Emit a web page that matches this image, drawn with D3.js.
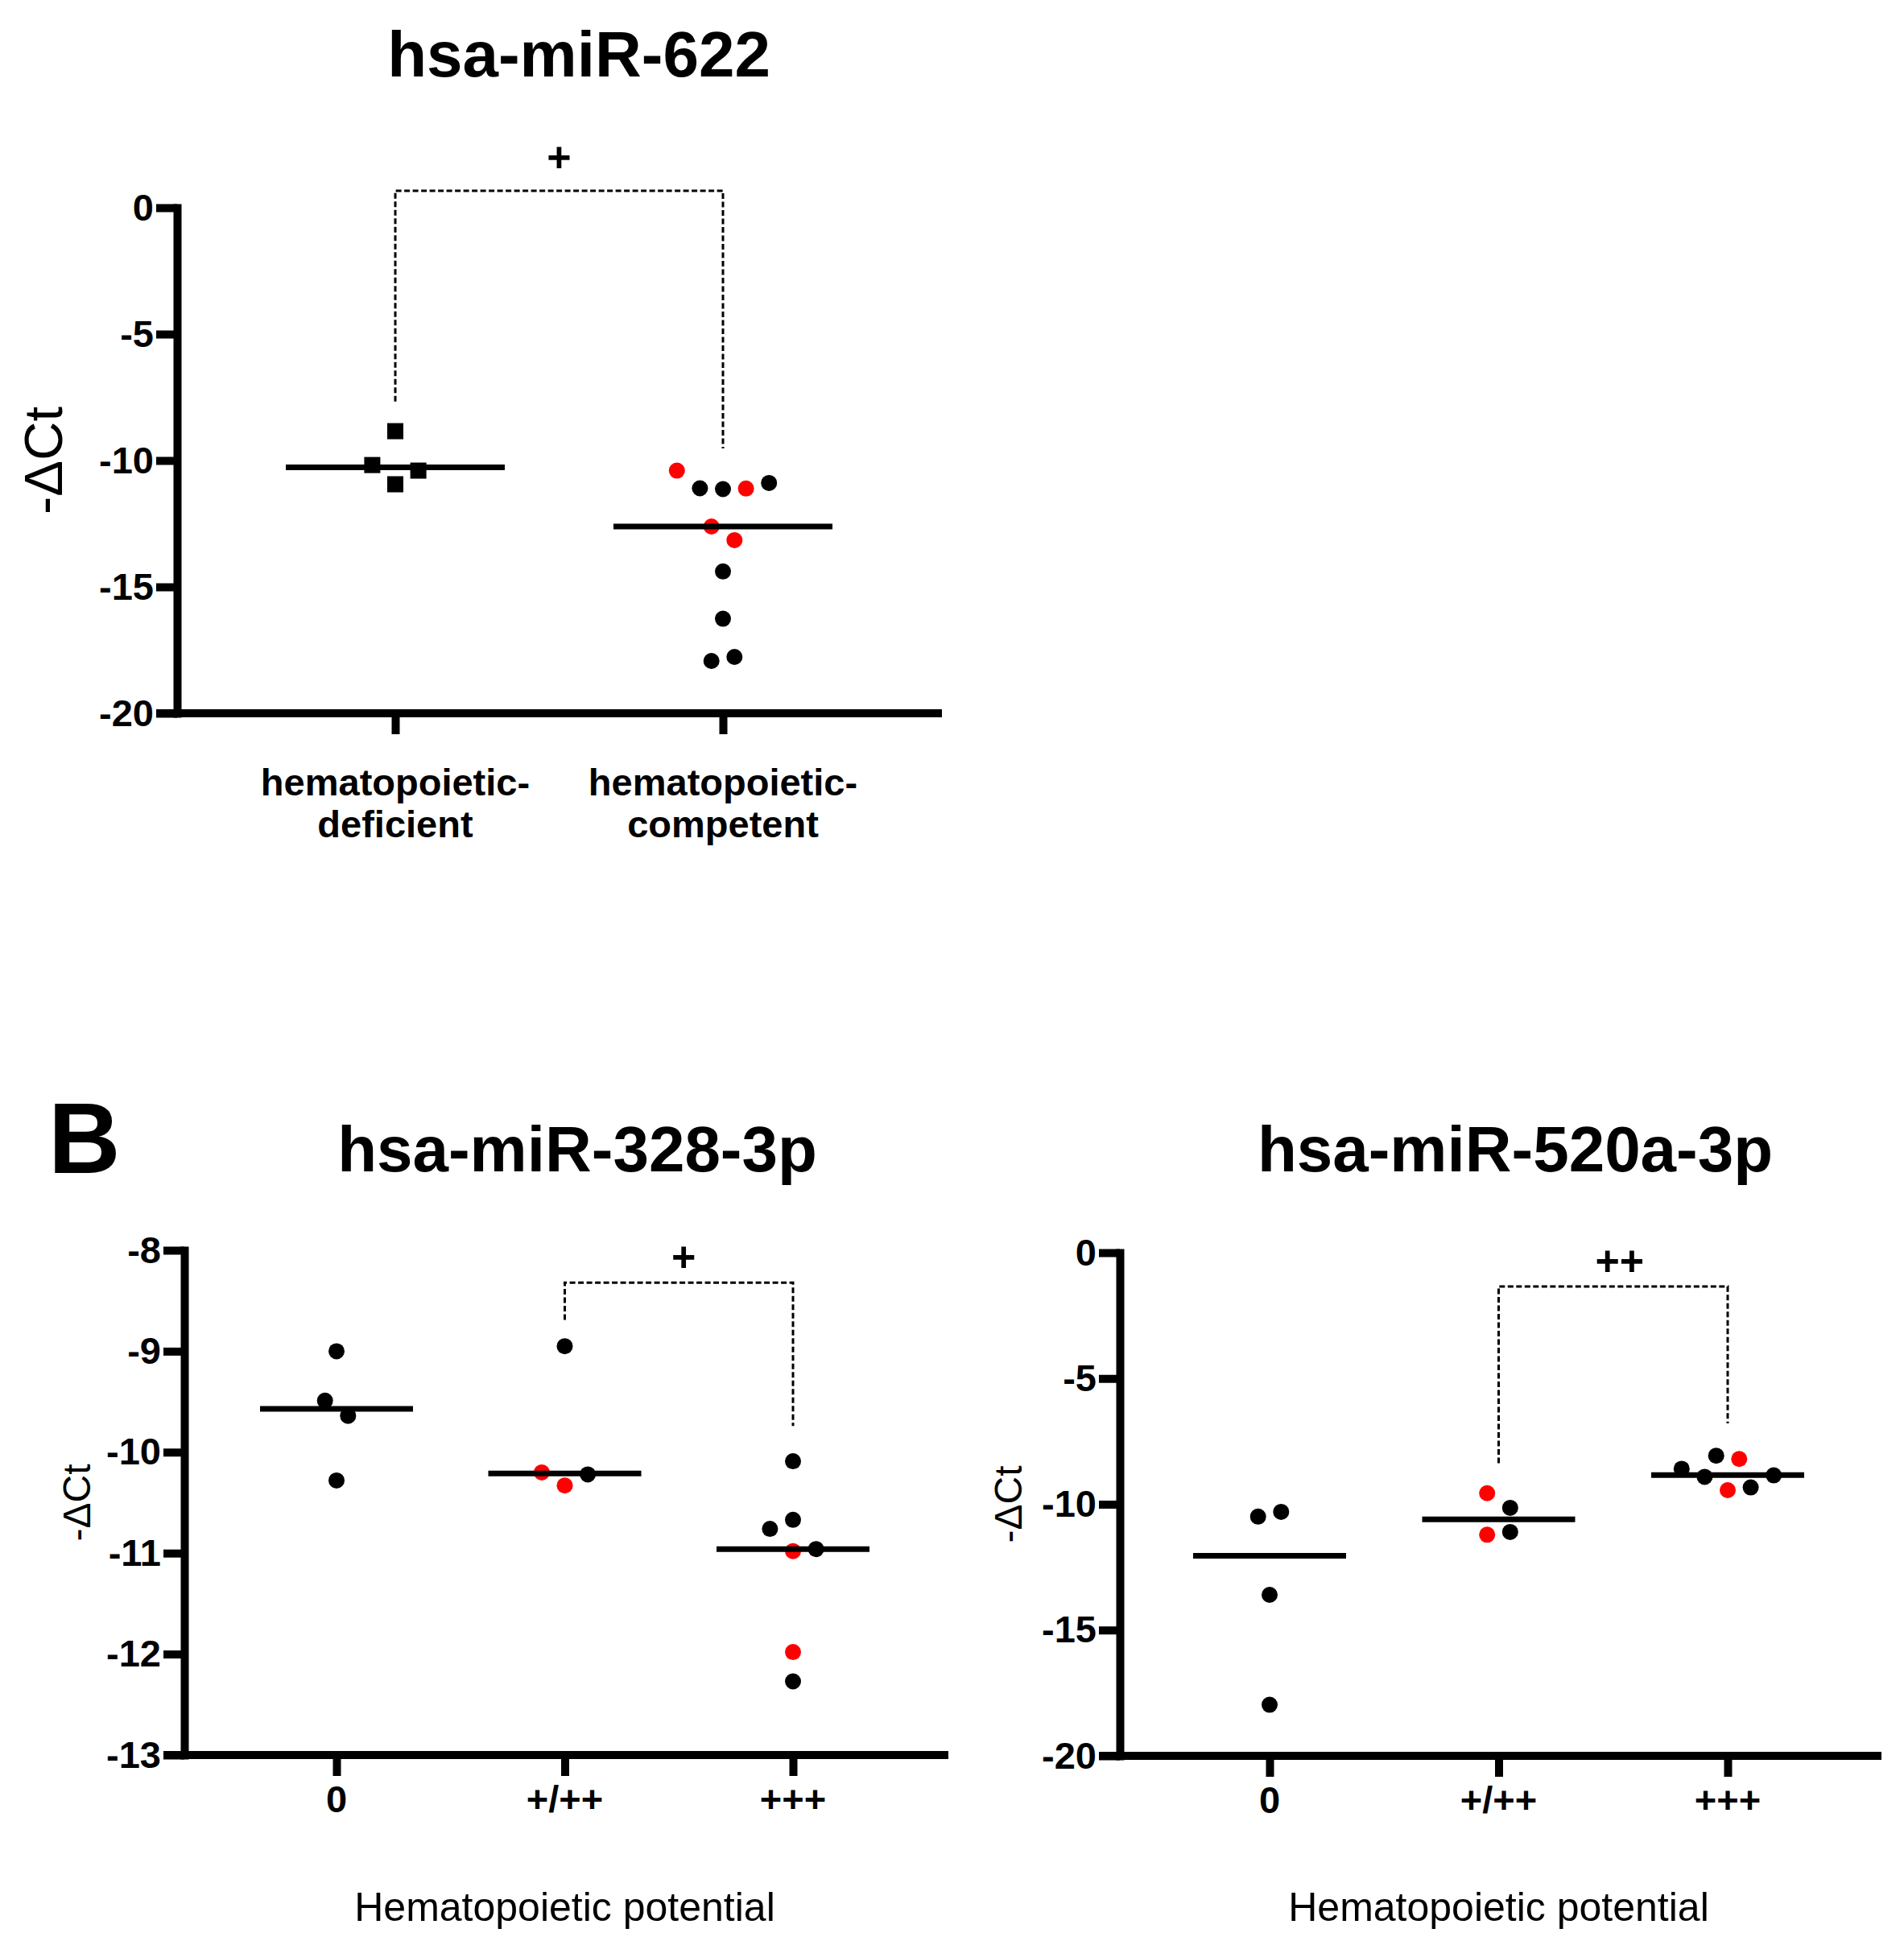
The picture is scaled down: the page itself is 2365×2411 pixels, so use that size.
<!DOCTYPE html>
<html>
<head>
<meta charset="utf-8">
<script src="https://cdn.jsdelivr.net/npm/d3@7"></script>
<style>
  body { margin: 0; background: #fff; }
  svg text { font-family: "Liberation Sans", Arial, Helvetica, sans-serif; fill: #000; }
</style>
</head>
<body>
<svg id="figure"></svg>
<script>
// ---------------- data ----------------
// hsa-miR-622 (panel A)
const miR622Groups = ['hematopoietic-\ndeficient', 'hematopoietic-\ncompetent'];
const miR622Values = [
  [-8.84, -10.18, -10.40, -10.94],
  [-10.40, -11.10, -11.13, -11.11, -10.89, -12.61, -13.15, -14.39, -16.26, -17.93, -17.77]
];
const miR622Red = [
  [0, 0, 0, 0],
  [1, 0, 0, 1, 0, 1, 1, 0, 0, 0, 0]
];
// horizontal scatter slot of every point (half point widths)
const miR622Jitter = [
  [0, -2, 2, 0],
  [-4, -2, 0, 2, 4, -1, 1, 0, 0, -1, 1]
];
const miR622Median = [-10.27, -12.61];
const miR622Ticks = [0, -5, -10, -15, -20];
const miR622Sig = { label: '+', from: 0, to: 1, top: 0.67, ends: [-7.67, -9.52] };

// hsa-miR-328-3p (panel B, left)
const potentialGroups = ['0', '+/++', '+++'];
const miR328Values = [
  [-9.00, -9.49, -9.64, -10.28],
  [-8.95, -10.20, -10.33, -10.22],
  [-10.09, -10.67, -10.76, -10.98, -10.96, -11.98, -12.27]
];
const miR328Red = [
  [0, 0, 0, 0],
  [0, 1, 1, 0],
  [0, 0, 0, 1, 0, 1, 0]
];
const miR328Jitter = [
  [0, -1, 1, 0],
  [0, -2, 0, 2],
  [0, 0, -2, 0, 2, 0, 0]
];
const miR328Median = [-9.57, -10.21, -10.96];
const miR328Ticks = [-8, -9, -10, -11, -12, -13];
const miR328Sig = { label: '+', from: 1, to: 2, top: -8.32, ends: [-8.69, -9.74] };

// hsa-miR-520a-3p (panel B, right)
const miR520Values = [
  [-10.49, -10.30, -13.60, -17.97],
  [-9.56, -10.14, -11.21, -11.10],
  [-8.59, -8.91, -8.07, -8.20, -9.44, -9.33, -8.85]
];
const miR520Red = [
  [0, 0, 0, 0],
  [1, 0, 1, 0],
  [0, 0, 0, 1, 1, 0, 0]
];
const miR520Jitter = [
  [-1, 1, 0, 0],
  [-1, 1, -1, 1],
  [-4, -2, -1, 1, 0, 2, 4]
];
const miR520Median = [-12.05, -10.60, -8.84];
const miR520Ticks = [0, -5, -10, -15, -20];
const miR520Sig = { label: '++', from: 1, to: 2, top: -1.34, ends: [-8.37, -6.78] };

// ---------------- layout ----------------
const WIDTH = 2365, HEIGHT = 2411;
const TICK = 26;          // tick length from axis centre
const AXIS_W = 10;        // axis stroke
const JITTER_STEP = 14.3; // px per jitter slot
const DOT_R = 10;
const RED = '#ff0000';

const svg = d3.select('#figure')
  .attr('width', WIDTH)
  .attr('height', HEIGHT)
  .attr('viewBox', `0 0 ${WIDTH} ${HEIGHT}`);

svg.append('rect').attr('width', WIDTH).attr('height', HEIGHT).attr('fill', '#fff');

const panels = [
  {
    title: 'hsa-miR-622', titleX: 719, titleY: 95,
    axisX: 220, yTop: 258, yBottom: 886, domain: [0, -20], xEnd: 1170, xRange: [491, 898],
    medianHalf: 136, yLabelSize: 67, yLabelX: 77, catY: 102, catLineH: 52,
    sigGap: 24, sigDx: 0, shapes: ['square', 'circle'], xTitle: null,
    groups: miR622Groups, values: miR622Values, red: miR622Red, jitter: miR622Jitter,
    median: miR622Median, ticks: miR622Ticks, sig: miR622Sig
  },
  {
    title: 'hsa-miR-328-3p', titleX: 717, titleY: 1455,
    axisX: 229, yTop: 1553, yBottom: 2180, domain: [-8, -13], xEnd: 1178, xRange: [418, 985],
    medianHalf: 95, yLabelSize: 48, yLabelX: 112, catY: 71, catLineH: 52,
    sigGap: 14, sigDx: 6, shapes: ['circle', 'circle', 'circle'], xTitle: 'Hematopoietic potential',
    groups: potentialGroups, values: miR328Values, red: miR328Red, jitter: miR328Jitter,
    median: miR328Median, ticks: miR328Ticks, sig: miR328Sig
  },
  {
    title: 'hsa-miR-520a-3p', titleX: 1882, titleY: 1455,
    axisX: 1391, yTop: 1556, yBottom: 2181, domain: [0, -20], xEnd: 2337, xRange: [1577, 2146],
    medianHalf: 95, yLabelSize: 48, yLabelX: 1269, catY: 71, catLineH: 52,
    sigGap: 14, sigDx: 8, shapes: ['circle', 'circle', 'circle'], xTitle: 'Hematopoietic potential',
    groups: potentialGroups, values: miR520Values, red: miR520Red, jitter: miR520Jitter,
    median: miR520Median, ticks: miR520Ticks, sig: miR520Sig
  }
];

panels.forEach(drawPanel);

// panel letter
svg.append('text')
  .attr('x', 60)
  .attr('y', 1457)
  .attr('font-size', 124)
  .attr('font-weight', 'bold')
  .text('B');

function drawPanel(p) {
  const g = svg.append('g');

  const y = d3.scaleLinear().domain(p.domain).range([p.yTop, p.yBottom]);
  const x = d3.scalePoint().domain(p.groups.map((_, i) => i)).range(p.xRange);
  const jit = d3.scaleLinear().domain([0, 1]).range([0, JITTER_STEP]);

  // title
  g.append('text')
    .attr('x', p.titleX)
    .attr('y', p.titleY)
    .attr('text-anchor', 'middle')
    .attr('font-size', 80)
    .attr('font-weight', 'bold')
    .text(p.title);

  // y axis
  const yAxis = d3.axisLeft(y)
    .tickValues(p.ticks)
    .tickSize(TICK)
    .tickSizeOuter(0)
    .tickPadding(3)
    .tickFormat(v => String(v));

  const yg = g.append('g')
    .attr('transform', `translate(${p.axisX},0)`)
    .call(yAxis);

  yg.select('.domain')
    .attr('stroke', '#000')
    .attr('stroke-width', AXIS_W)
    .attr('stroke-linecap', 'square');
  yg.selectAll('.tick line').attr('stroke', '#000').attr('stroke-width', AXIS_W);
  yg.selectAll('.tick text')
    .attr('font-size', 47)
    .attr('font-weight', 'bold');

  // x axis: baseline + ticks, labels drawn below
  g.append('line')
    .attr('x1', p.axisX - TICK)
    .attr('x2', p.xEnd)
    .attr('y1', p.yBottom)
    .attr('y2', p.yBottom)
    .attr('stroke', '#000')
    .attr('stroke-width', AXIS_W);

  const xAxis = d3.axisBottom(x).tickSize(TICK).tickSizeOuter(0).tickFormat('');
  const xg = g.append('g')
    .attr('transform', `translate(0,${p.yBottom})`)
    .call(xAxis);
  xg.select('.domain').remove();
  xg.selectAll('.tick line').attr('stroke', '#000').attr('stroke-width', AXIS_W);

  // category labels (may be two lines)
  p.groups.forEach((name, i) => {
    const t = g.append('text')
      .attr('text-anchor', 'middle')
      .attr('font-size', 47)
      .attr('font-weight', 'bold');
    name.split('\n').forEach((line, k) => {
      t.append('tspan')
        .attr('x', x(i))
        .attr('y', p.yBottom + p.catY + k * p.catLineH)
        .text(line);
    });
  });

  // y label
  g.append('text')
    .attr('transform', `translate(${p.yLabelX},${(p.yTop + p.yBottom) / 2}) rotate(-90)`)
    .attr('text-anchor', 'middle')
    .attr('font-size', p.yLabelSize)
    .text('-ΔCt');

  // x title
  if (p.xTitle) {
    g.append('text')
      .attr('x', x(1))
      .attr('y', 2386)
      .attr('text-anchor', 'middle')
      .attr('font-size', 50)
      .text(p.xTitle);
  }

  // significance bracket
  const s = p.sig;
  g.append('path')
    .attr('d', `M${x(s.from)},${y(s.ends[0])}V${y(s.top)}H${x(s.to)}V${y(s.ends[1])}`)
    .attr('fill', 'none')
    .attr('stroke', '#000')
    .attr('stroke-width', 3)
    .attr('stroke-dasharray', '7,3.5');

  g.append('text')
    .attr('x', (x(s.from) + x(s.to)) / 2 + p.sigDx)
    .attr('y', y(s.top) - p.sigGap)
    .attr('text-anchor', 'middle')
    .attr('font-size', 52)
    .attr('font-weight', 'bold')
    .text(s.label);

  // points and medians
  p.values.forEach((vals, i) => {
    const pts = vals.map((v, k) => ({ v, red: p.red[i][k], j: p.jitter[i][k] }));
    const cx = d => x(i) + jit(d.j);
    const fill = d => d.red ? RED : '#000';

    if (p.shapes[i] === 'square') {
      g.selectAll(null)
        .data(pts)
        .join('rect')
        .attr('x', d => cx(d) - DOT_R)
        .attr('y', d => y(d.v) - DOT_R)
        .attr('width', DOT_R * 2)
        .attr('height', DOT_R * 2)
        .attr('fill', fill);
    } else {
      g.selectAll(null)
        .data(pts)
        .join('circle')
        .attr('cx', cx)
        .attr('cy', d => y(d.v))
        .attr('r', DOT_R)
        .attr('fill', fill);
    }

    g.append('line')
      .attr('x1', x(i) - p.medianHalf)
      .attr('x2', x(i) + p.medianHalf)
      .attr('y1', y(p.median[i]))
      .attr('y2', y(p.median[i]))
      .attr('stroke', '#000')
      .attr('stroke-width', 7);
  });
}
</script>
</body>
</html>
